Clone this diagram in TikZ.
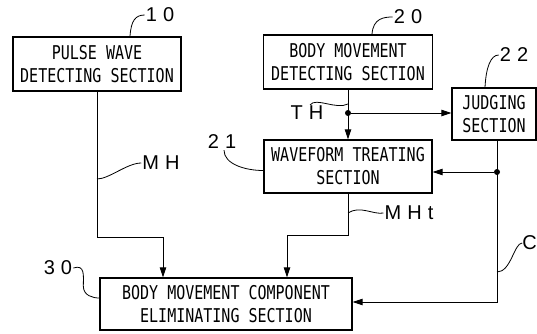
\documentclass[tikz,border=0pt]{standalone}
\usepackage{fontspec}
\setmainfont{Liberation Sans}
\newfontfamily\boxfont[FakeStretch=0.79]{DejaVu Sans Mono}
\newfontfamily\numfont[LetterSpace=30]{Liberation Sans}
\usetikzlibrary{arrows.meta}
\tikzset{
  secbox/.style={rectangle, draw=black, line width=1.3pt, inner sep=2pt,
    align=center, font=\boxfont\fontsize{19}{23}\selectfont},
  sigline/.style={-{Triangle[length=10pt,width=6.5pt]}, line width=0.9pt},
  plainline/.style={line width=0.9pt},
  leader/.style={line width=0.8pt},
  reflabel/.style={inner sep=1pt, font=\numfont\fontsize{20}{22}\selectfont},
  jdot/.style={circle, fill=black, inner sep=0pt, minimum size=6pt}
}

\begin{document}
\begin{tikzpicture}[x=1pt,y=-1pt]
  \useasboundingbox (0,0) rectangle (537,333);
  % sections
  \node[secbox, minimum width=168pt, minimum height=54pt] (pulse) at (97,64)
    {PULSE WAVE\\DETECTING SECTION};
  \node[secbox, minimum width=169pt, minimum height=54pt] (body) at (348,62)
    {BODY MOVEMENT\\DETECTING SECTION};
  \node[secbox, minimum width=84pt, minimum height=52pt] (judge) at (494,114)
    {JUDGING\\SECTION};
  \node[secbox, minimum width=168pt, minimum height=53pt] (wave) at (348,166.5)
    {WAVEFORM TREATING\\SECTION};
  \node[secbox, minimum width=252pt, minimum height=52pt] (elim) at (226,304)
    {BODY MOVEMENT COMPONENT\\ELIMINATING SECTION};

  % reference labels
  \node[reflabel] (l10) at (160,15) {10};
  \node[reflabel] (l20) at (408,17) {20};
  \node[reflabel] (l22) at (514,55) {22};
  \node[reflabel] (l21) at (222,142) {21};
  \node[reflabel] (l30) at (58,268) {30};
  \node[reflabel] (lth) at (307,113) {TH};
  \node[reflabel] (lmh) at (161,163) {MH};
  \node[reflabel] (lmht) at (409,213) {MHt};
  \node[reflabel, inner sep=0pt, anchor=east] (lc) at (537,243) {C};

  % junctions and bends
  \node[jdot] (th) at (348,113) {};
  \node[jdot] (cj) at (497,172) {};
  \coordinate (cc) at (497,302);
  \coordinate (mhb) at (97,237);
  \coordinate (mhtb) at (348,235);

  % signal lines
  \draw[sigline] (body.south) -- (wave.north);
  \draw[sigline] (th) -- (th -| judge.west);
  \draw[sigline] (judge.south -| cc) -- (cc) -- (cc -| elim.east);
  \draw[sigline] (cj) -- (cj -| wave.east);
  \draw[sigline] (pulse.south) -- (mhb) -| ([xshift=-63pt]elim.north);
  \draw[sigline] (wave.south) -- (mhtb) -| ([xshift=61pt]elim.north);

  % leaders
  \draw[leader] ([xshift=33pt]pulse.north) .. controls +(1,-16) and +(-9,0) .. (l10.west);
  \draw[leader] ([xshift=24pt]body.north) .. controls +(1,-16) and +(-9,0) .. (l20.west);
  \draw[leader] ([xshift=-9pt]judge.north) .. controls +(1,-20) and +(-8,0) .. (l22.west);
  \draw[leader] ([xshift=2pt]l21.south) .. controls +(0,14) and +(-18,0) .. ([yshift=-4pt]wave.west);
  \draw[leader] (l30.east) .. controls +(12,-4) and +(0,-10) .. ++(10,18)
    .. controls +(0,10) and +(-6,0) .. ([yshift=6pt]elim.west);
  \draw[leader] ([xshift=3pt]lth.north) .. controls +(6,-8) and +(-12,6) .. ([yshift=9pt]th.center);
  \draw[leader] ([yshift=58pt]mhb) .. controls +(12,0) and +(-14,0) .. (lmh.west);
  \draw[leader] ([yshift=22pt]mhtb) .. controls +(12,-8) and +(-10,2) .. (lmht.west);
  \draw[leader] ([yshift=30pt]cc) .. controls +(14,0) and +(-8,0) .. (lc.west);
\end{tikzpicture}
\end{document}
